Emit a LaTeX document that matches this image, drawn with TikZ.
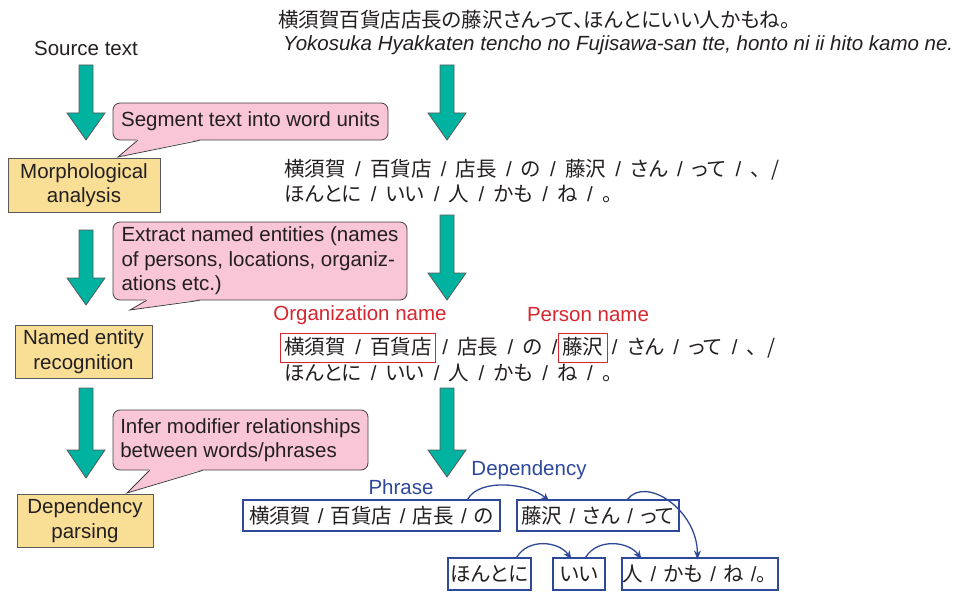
\documentclass[tikz,border=0pt]{standalone}
\usepackage{fontspec}
\setmainfont{Liberation Sans}
\newfontfamily\jp[RawFeature=+palt]{Noto Sans CJK JP}
\newfontfamily\jpf{Noto Sans CJK JP}
\usetikzlibrary{arrows.meta}
\definecolor{ink}{RGB}{35,31,32}
\definecolor{tealA}{RGB}{0,178,160}
\definecolor{yellowA}{RGB}{249,222,150}
\definecolor{pinkA}{RGB}{248,198,214}
\definecolor{redA}{RGB}{215,38,46}
\definecolor{blueA}{RGB}{46,72,154}
\definecolor{edgeA}{RGB}{90,90,90}
\newcommand\js{\hspace{9.3pt}{\rmfamily/}\hspace{9.3pt}}
\newcommand\jsb{\hspace{7.3pt}{\rmfamily/}\hspace{7.3pt}}
\newcommand\jcomma{{\jpf 、}}
\newcommand\tealarrow[4]{%
  \draw[arrowsty] (#1-7,#2) -- (#1+7,#2) -- (#1+7,#3) -- (#1+19,#3) -- (#1,#4) -- (#1-19,#3) -- (#1-7,#3) -- cycle;}
\tikzset{
  basefont/.style={font=\fontsize{20.5}{24.5}\selectfont},
  jpfont/.style={font=\fontsize{20.5}{25}\selectfont\jp},
  arrowsty/.style={fill=tealA, draw=edgeA, line width=0.8pt},
  procbox/.style={basefont, draw=edgeA, fill=yellowA, line width=1pt, align=center, inner sep=0pt},
  callbox/.style={basefont, draw=ink!85, fill=pinkA, rounded corners=7pt, line width=0.8pt, align=left, inner sep=0pt},
  callptr/.style={draw=ink!85, line width=0.8pt},
  phrasebox/.style={jpfont, draw=blueA, line width=1.1pt, inner sep=0pt},
  nebox/.style={jpfont, draw=redA, line width=0.9pt, inner xsep=4pt, inner ysep=4pt, text height=17pt, text depth=4pt},
  deparrow/.style={draw=blueA, line width=1.3pt, -{Stealth[length=9pt,width=7pt]}},
}
\begin{document}
\begin{tikzpicture}[x=1pt,y=-1pt, every node/.style={text=ink}]
\useasboundingbox (0,0) rectangle (957,591);

% left column
\node[basefont] (src) at (86,48) {Source text};
\tealarrow{86}{65}{113}{140}
\tealarrow{86}{230}{278}{305}
\tealarrow{86}{388}{450}{478}

\node[procbox, minimum width=152pt, minimum height=54pt] (morph) at (84,185) {Morphological\\analysis};
\node[procbox, minimum width=137pt, minimum height=53pt] (ner) at (83.5,351.5) {Named entity\\recognition};
\node[procbox, minimum width=136pt, minimum height=53pt] (dep) at (85,520.5) {Dependency\\parsing};

% callouts
\node[callbox, minimum width=275pt, minimum height=37pt] (c1) at (250.5,121.5) {Segment text into word units};
\coordinate (t1) at (118,157);
\fill[pinkA] ([xshift=25pt,yshift=1.2pt]c1.south west) -- (t1) -- ([xshift=87pt,yshift=1.2pt]c1.south west) -- cycle;
\draw[callptr] ([xshift=25pt]c1.south west) -- (t1) -- ([xshift=87pt]c1.south west);

\node[callbox, minimum width=294pt, minimum height=78pt] (c2) at (260,261) {Extract named entities (names\\of persons, locations, organiz-\\ations etc.)};
\coordinate (t2) at (130,310);
\fill[pinkA] ([xshift=34pt,yshift=1.2pt]c2.south west) -- (t2) -- ([xshift=87pt,yshift=1.2pt]c2.south west) -- cycle;
\draw[callptr] ([xshift=34pt]c2.south west) -- (t2) -- ([xshift=87pt]c2.south west);

\node[callbox, minimum width=255pt, minimum height=60pt] (c3) at (240.5,440) {Infer modifier relationships\\between words/phrases};
\coordinate (t3) at (127,493);
\fill[pinkA] ([xshift=37pt,yshift=1.2pt]c3.south west) -- (t3) -- ([xshift=90pt,yshift=1.2pt]c3.south west) -- cycle;
\draw[callptr] ([xshift=37pt]c3.south west) -- (t3) -- ([xshift=90pt]c3.south west);

% right column
\node[jpfont, anchor=west, inner sep=0pt] (j1) at (278,20) {横須賀百貨店店長の藤沢さんって、ほんとにいい人かもね。};
\node[basefont, anchor=west, inner sep=0pt] (rom) at (283,45) {\itshape Yokosuka Hyakkaten tencho no Fujisawa-san tte, honto ni ii hito kamo ne.};

\tealarrow{447}{65}{113}{140}
\tealarrow{447}{215}{273}{300}
\tealarrow{447}{388}{450}{477}

\node[jpfont, anchor=west, inner sep=0pt, align=left] (seg) at (284,181) {横須賀\js 百貨店\js 店長\js の\js 藤沢\js さん\js って\js\jcomma/\\ほんとに\js いい\js 人\js かも\js ね\js 。};

\node[basefont, text=redA] (orgl) at (360,315) {Organization name};
\node[basefont, text=redA] (perl) at (588,315) {Person name};

\node[nebox, anchor=west] (org) at (280,347.5) {横須賀\js 百貨店};
\node[jpfont, anchor=base west, inner sep=0pt] (mid) at (org.base east) {\hspace{6pt}{\rmfamily/}\hspace{9.3pt}店長\js の\hspace{9.3pt}{\rmfamily/}\hspace{6pt}};
\node[nebox, anchor=base west] (per) at (mid.base east) {藤沢};
\node[jpfont, anchor=base west, inner sep=0pt] (rest) at (per.base east) {\hspace{4pt}{\rmfamily/}\hspace{9.3pt}さん\js って\js\jcomma/};
\node[jpfont, anchor=west, inner sep=0pt] (ne2) at (284,373) {ほんとに\js いい\js 人\js かも\js ね\js 。};

% dependency
\node[basefont, text=blueA] (depl) at (529,470) {Dependency};
\node[basefont, text=blueA] (phl) at (401,487) {Phrase};

\node[phrasebox, minimum width=257pt, minimum height=31pt] (pa) at (371.5,515.5) {横須賀\jsb 百貨店\jsb 店長\jsb の};
\node[phrasebox, minimum width=162pt, minimum height=31pt] (pb) at (598,515.5) {藤沢\jsb さん\jsb って};
\node[phrasebox, minimum width=83pt, minimum height=32pt] (pc) at (489.5,574) {ほんとに};
\node[phrasebox, minimum width=52pt, minimum height=32pt] (pd) at (579,574) {いい};
\node[phrasebox, minimum width=156pt, minimum height=32pt] (pe) at (700,574) {人\jsb かも\jsb ね\hspace{7pt}{\rmfamily/}{\jpf 。}};

\draw[deparrow] ([xshift=-33pt]pa.north east) .. controls +(12,-22) and +(-20,-18) .. ([xshift=33pt,yshift=-2pt]pb.north west);
\draw[deparrow] ([xshift=111pt]pb.north west) .. controls +(18,-24) and +(0,-50) .. ([xshift=76pt,yshift=-2pt]pe.north west);
\draw[deparrow] ([xshift=-15pt]pc.north east) .. controls +(12,-20) and +(-12,-18) .. ([xshift=19pt,yshift=-2pt]pd.north west);
\draw[deparrow] ([xshift=-20pt]pd.north east) .. controls +(12,-20) and +(-12,-18) .. ([xshift=20pt,yshift=-2pt]pe.north west);
\end{tikzpicture}
\end{document}
